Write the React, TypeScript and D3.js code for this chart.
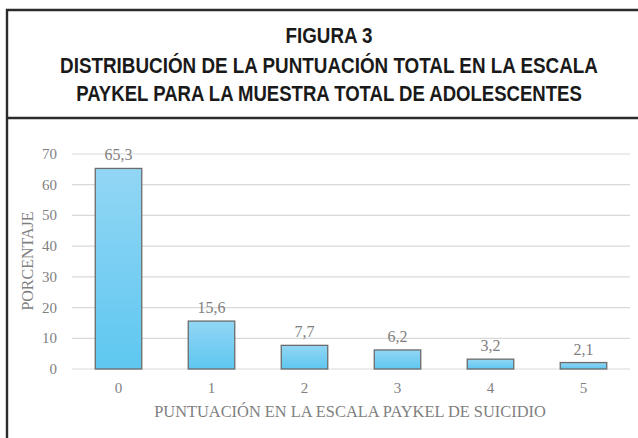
import React, { useRef, useEffect } from 'react';
import * as d3 from 'd3';

const categories = ['0', '1', '2', '3', '4', '5'];
const values = [65.3, 15.6, 7.7, 6.2, 3.2, 2.1];
const valueLabels = ['65,3', '15,6', '7,7', '6,2', '3,2', '2,1'];
const yTicks = [0, 10, 20, 30, 40, 50, 60, 70];
const titleLines = [
  'FIGURA 3',
  'DISTRIBUCIÓN DE LA PUNTUACIÓN TOTAL EN LA ESCALA',
  'PAYKEL PARA LA MUESTRA TOTAL DE ADOLESCENTES',
];

export default function App() {
  const svgRef = useRef<SVGSVGElement>(null);

  useEffect(() => {
    const svg = d3.select(svgRef.current);
    svg.selectAll('*').remove();

    // frame (open on the right, runs off the bottom)
    svg.append('rect').attr('x', 0).attr('y', 0).attr('width', 638).attr('height', 438).attr('fill', '#fff');
    svg.append('path')
      .attr('d', 'M7,450 L7,10 L640,10')
      .attr('fill', 'none').attr('stroke', '#2b2b2b').attr('stroke-width', 2.4);
    svg.append('line').attr('x1', 7).attr('x2', 640).attr('y1', 118).attr('y2', 118)
      .attr('stroke', '#2b2b2b').attr('stroke-width', 2.4);

    // title, squeezed horizontally to the condensed look of the original
    const titleY = [43, 73, 101];
    const titleW = [87, 538, 506];
    svg.selectAll('.title').data(titleLines).join('text')
      .attr('class', 'title')
      .attr('text-anchor', 'middle')
      .attr('font-family', '"Liberation Sans Narrow", "Liberation Sans", sans-serif')
      .attr('font-weight', 'bold')
      .attr('font-size', 22.5)
      .attr('fill', '#1a1a1a')
      .text(d => d)
      .each(function (d, i) {
        const el = this as SVGTextElement;
        const natural = el.getComputedTextLength() || titleW[i];
        d3.select(el).attr('transform', `translate(329,${titleY[i]}) scale(${titleW[i] / natural},1)`);
      });

    const x = d3.scaleBand().domain(categories).range([72, 630]).paddingInner(0.5).paddingOuter(0.25);
    const y = d3.scaleLinear().domain([0, 70]).range([369, 154]);

    const defs = svg.append('defs');
    const grad = defs.append('linearGradient').attr('id', 'barGrad').attr('x1', 0).attr('x2', 0).attr('y1', 0).attr('y2', 1);
    grad.append('stop').attr('offset', '0%').attr('stop-color', '#92d6f4');
    grad.append('stop').attr('offset', '100%').attr('stop-color', '#5ec7f0');

    // grid
    svg.append('g').selectAll('line').data(yTicks).join('line')
      .attr('x1', 72).attr('x2', 630)
      .attr('y1', d => y(d)).attr('y2', d => y(d))
      .attr('stroke', '#d9d9d9').attr('stroke-width', 1.2);

    const serif = '"Liberation Serif", "DejaVu Serif", serif';

    svg.append('g').selectAll('text').data(yTicks).join('text')
      .attr('x', 57).attr('y', d => y(d) + 5)
      .attr('text-anchor', 'end')
      .attr('font-family', serif).attr('font-size', 15).attr('fill', '#7f7f7f')
      .text(d => d);

    // bars
    svg.append('g').selectAll('rect').data(values).join('rect')
      .attr('x', (d, i) => x(categories[i])!)
      .attr('y', d => y(d))
      .attr('width', x.bandwidth())
      .attr('height', d => y(0) - y(d))
      .attr('fill', 'url(#barGrad)')
      .attr('stroke', '#6b6b6b').attr('stroke-width', 1.3);

    svg.append('g').selectAll('text').data(values).join('text')
      .attr('x', (d, i) => x(categories[i])! + x.bandwidth() / 2)
      .attr('y', d => y(d) - 8)
      .attr('text-anchor', 'middle')
      .attr('font-family', serif).attr('font-size', 16).attr('fill', '#7f7f7f')
      .text((d, i) => valueLabels[i]);

    svg.append('g').selectAll('text').data(categories).join('text')
      .attr('x', d => x(d)! + x.bandwidth() / 2)
      .attr('y', 393)
      .attr('text-anchor', 'middle')
      .attr('font-family', serif).attr('font-size', 15).attr('fill', '#7f7f7f')
      .text(d => d);

    svg.append('text')
      .attr('x', 350).attr('y', 417)
      .attr('text-anchor', 'middle')
      .attr('font-family', serif).attr('font-size', 16.4).attr('fill', '#7f7f7f')
      .text('PUNTUACIÓN EN LA ESCALA PAYKEL DE SUICIDIO');

    svg.append('text')
      .attr('transform', `translate(33,261) rotate(-90)`)
      .attr('text-anchor', 'middle')
      .attr('font-family', serif).attr('font-size', 16).attr('fill', '#7f7f7f')
      .text('PORCENTAJE');
  }, []);

  return (
    <svg ref={svgRef} width={638} height={438}
      style={{ position: 'absolute', left: 0, top: 0, display: 'block' }} />
  );
}
